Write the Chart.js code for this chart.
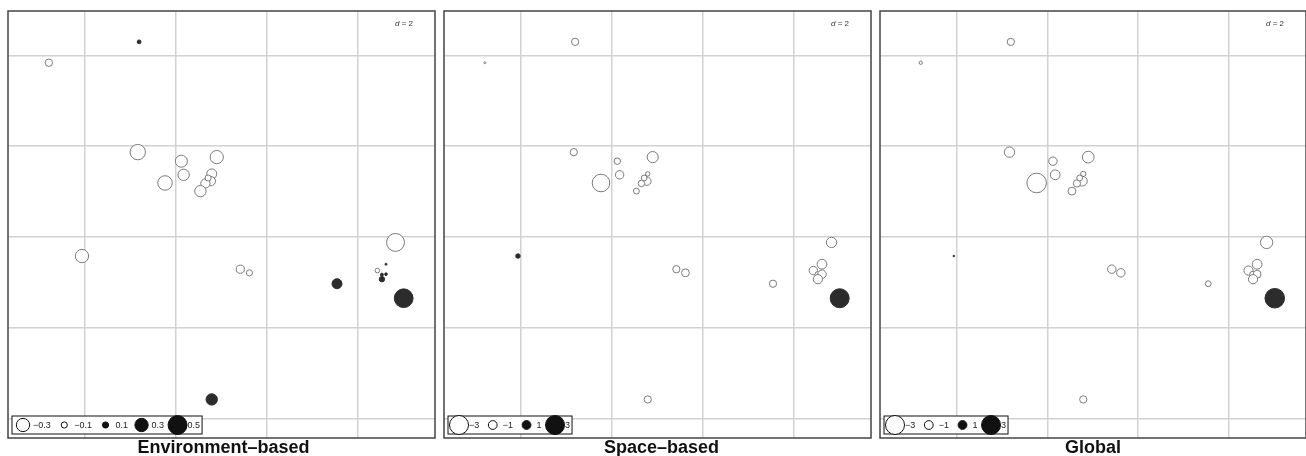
<!DOCTYPE html>
<html lang="en">
  <head>
    <meta charset="UTF-8" />
    <title>Environment, space and global maps</title>
    <script src="https://cdn.jsdelivr.net/npm/chart.js"></script>
    <style>
      body {
        margin: 0;
        background: #fff;
        font-family: "Liberation Sans", Arial, sans-serif;
      }
      #wrap {
        position: relative;
        width: 1306px;
        height: 456px;
      }
      .panel {
        position: absolute;
        top: 0;
        height: 440px;
      }
      .caption {
        position: absolute;
        top: 438px;
        font-weight: bold;
        font-size: 18px;
        line-height: 18px;
        text-align: center;
        color: #111;
      }
    </style>
  </head>
  <body>
    <div id="wrap">
      <div class="panel" style="left: 0; width: 440px"><canvas id="envChart"></canvas></div>
      <div class="panel" style="left: 436px; width: 440px"><canvas id="spaceChart"></canvas></div>
      <div class="panel" style="left: 872px; width: 434px"><canvas id="globalChart"></canvas></div>
      <div class="caption" style="left: 10px; width: 427px">Environment–based</div>
      <div class="caption" style="left: 448px; width: 427px">Space–based</div>
      <div class="caption" style="left: 880px; width: 426px">Global</div>
    </div>

    <script>
      // site coordinates (same for all three maps)
      const siteX = [
        -0.81, -2.8, -0.84, 0.12, 0.9, 0.17, -0.24, 0.79, 0.77, 0.65, 0.54,
        -2.07, 1.42, 1.62, 3.55, 4.84, 4.63, 4.44, 4.54, 4.63, 4.54, 5.02,
        0.79, 0.71,
      ];
      const siteY = [
        4.3, 3.84, 1.87, 1.67, 1.76, 1.37, 1.19, 1.39, 1.23, 1.18, 1.01,
        -0.42, -0.71, -0.79, -1.03, -0.12, -0.6, -0.74, -0.83, -0.82, -0.93,
        -1.35, -3.58, 1.3,
      ];

      // mapped values
      const envValues = [
        0.05, -0.13, -0.37, -0.26, -0.3, -0.24, -0.34, -0.2, -0.18, -0.18,
        -0.24, -0.3, -0.15, -0.1, 0.2, -0.46, 0.02, -0.066, 0.036, 0.03,
        0.083, 0.49, 0.24, -0.1,
      ];
      const spaceValues = [
        -0.76, -0.12, -0.76, -0.64, -1.4, -0.94, -2.69, -0.38, -0.94, -0.64,
        -0.56, 0.38, -0.76, -0.85, -0.76, -1.26, -1.16, -0.94, -0.6, -0.94,
        -1.06, 3.0, -0.76, -0.56,
      ];
      const globalValues = [
        -0.76, -0.25, -1.26, -0.94, -1.51, -1.16, -3.13, -0.48, -1.16, -0.76,
        -0.85, 0.09, -0.94, -0.94, -0.56, -1.62, -1.16, -1.06, -0.7, -0.85,
        -1.06, 3.13, -0.76, -0.56,
      ];

      const envLegend = [-0.3, -0.1, 0.1, 0.3, 0.5];
      const spaceLegend = [-3, -1, 1, 3];
      const globalLegend = [-3, -1, 1, 3];

      const xTicks = [-2, 0, 2, 4];
      const yTicks = [-4, -2, 0, 2, 4];
      const gridStep = 2;

      function radiusFor(v, maxAbs) {
        return Math.max(0.7, 9.5 * Math.pow(Math.abs(v) / maxAbs, 0.7));
      }

      function fmt(v) {
        return (v < 0 ? "\u2212" : "") + Math.abs(v);
      }

      const framePlugin = {
        id: "frame",
        afterDraw(chart, args, opts) {
          const { ctx, chartArea: a } = chart;
          ctx.save();
          ctx.strokeStyle = "#444";
          ctx.lineWidth = 1.5;
          ctx.strokeRect(a.left, a.top, a.right - a.left, a.bottom - a.top);

          // "d = 2" in the corner
          ctx.fillStyle = "#333";
          ctx.textBaseline = "middle";
          let tx = a.right - 40;
          ctx.font = 'italic 8px "Liberation Sans"';
          ctx.fillText("d", tx, a.top + 13);
          tx += ctx.measureText("d").width;
          ctx.font = '8px "Liberation Sans"';
          ctx.fillText(" = " + gridStep, tx, a.top + 13);

          // size legend
          const items = opts.items;
          const maxAbs = Math.max(...items.map(Math.abs));
          ctx.font = '9px "Liberation Sans"';
          const boxL = a.left + 4;
          const boxT = a.bottom - 22;
          const boxB = a.bottom - 4;
          const cy = (boxT + boxB) / 2;
          let cx = boxL + 11;
          const marks = [];
          items.forEach((v) => {
            const label = fmt(v);
            const w = ctx.measureText(label).width;
            marks.push({ v, cx, tx: cx + 10, label });
            cx = cx + 10 + w + 13.5;
          });
          const last = marks[marks.length - 1];
          const boxR = last.tx + ctx.measureText(last.label).width + 2;
          ctx.fillStyle = "#fff";
          ctx.fillRect(boxL, boxT, boxR - boxL, boxB - boxT);
          ctx.strokeStyle = "#111";
          ctx.lineWidth = 1;
          ctx.strokeRect(boxL, boxT, boxR - boxL, boxB - boxT);
          marks.forEach((m) => {
            ctx.fillStyle = "#222";
            ctx.textBaseline = "middle";
            ctx.fillText(m.label, m.tx, cy + 0.5);
          });
          marks.forEach((m) => {
            const r = radiusFor(m.v, maxAbs);
            ctx.beginPath();
            ctx.arc(m.cx, cy, r, 0, Math.PI * 2);
            ctx.fillStyle = m.v > 0 ? "#111" : "#fff";
            ctx.fill();
            ctx.strokeStyle = "#111";
            ctx.stroke();
          });
          ctx.restore();
        },
      };

      function flatten(s) {
        if (s.isHorizontal()) s.height = 0;
        else s.width = 0;
        s.paddingLeft = s.paddingRight = s.paddingTop = s.paddingBottom = 0;
      }

      function makeMap(id, values, legendItems, padRight) {
        const maxAbs = Math.max(...legendItems.map(Math.abs));
        const points = siteX.map((x, i) => ({ x, y: siteY[i], v: values[i] }));
        const gridOpts = {
          color: "#d2d2d2",
          lineWidth: 1.5,
          drawTicks: false,
        };
        return new Chart(document.getElementById(id), {
          type: "scatter",
          data: {
            datasets: [
              {
                data: points,
                pointRadius: (c) => radiusFor(c.raw.v, maxAbs),
                pointBackgroundColor: (c) => (c.raw.v > 0 ? "#2c2c2c" : "#fff"),
                pointBorderColor: (c) => (c.raw.v > 0 ? "#2c2c2c" : "#7a7a7a"),
                pointBorderWidth: 1,
              },
            ],
          },
          options: {
            responsive: true,
            maintainAspectRatio: false,
            animation: false,
            events: [],
            layout: {
              autoPadding: false,
              padding: { left: 8, top: 11, right: padRight, bottom: 2 },
            },
            plugins: {
              legend: { display: false },
              tooltip: { enabled: false },
              frame: { items: legendItems },
            },
            scales: {
              x: {
                min: -3.7,
                max: 5.71,
                grid: gridOpts,
                border: { display: false },
                ticks: { display: false },
                afterBuildTicks: (s) => {
                  s.ticks = xTicks.map((value) => ({ value }));
                },
                afterFit: flatten,
              },
              y: {
                min: -4.43,
                max: 4.98,
                grid: gridOpts,
                border: { display: false },
                ticks: { display: false },
                afterBuildTicks: (s) => {
                  s.ticks = yTicks.map((value) => ({ value }));
                },
                afterFit: flatten,
              },
            },
          },
          plugins: [framePlugin],
        });
      }

      makeMap("envChart", envValues, envLegend, 5);
      makeMap("spaceChart", spaceValues, spaceLegend, 5);
      makeMap("globalChart", globalValues, globalLegend, 0);
    </script>
  </body>
</html>
